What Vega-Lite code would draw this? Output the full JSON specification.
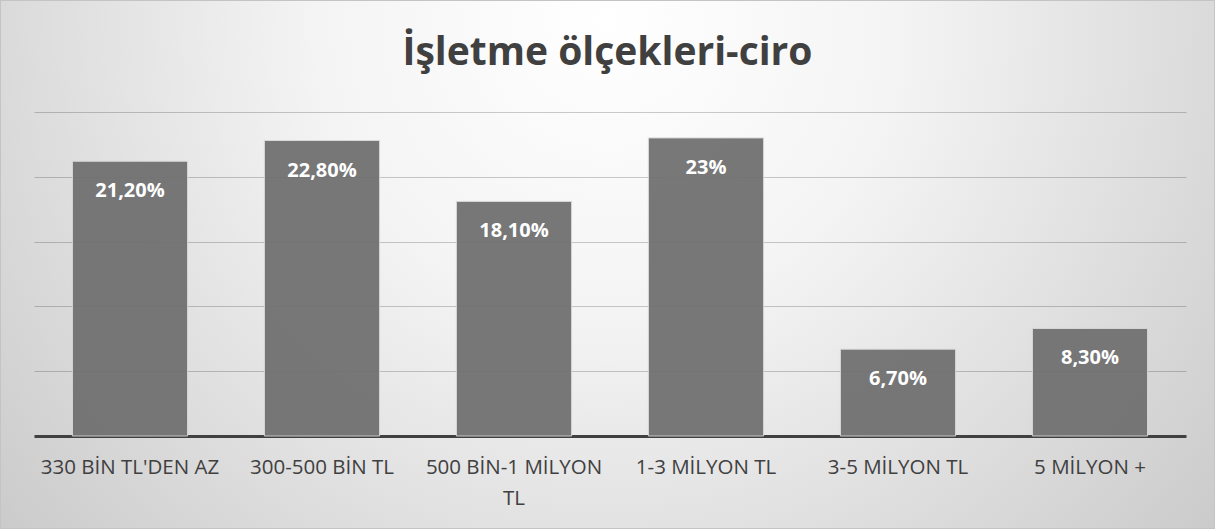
{
  "$schema": "https://vega.github.io/schema/vega-lite/v6.json",
  "width": 1215,
  "height": 529,
  "autosize": "none",
  "padding": 0,
  "background": "white",
  "title": {
    "text": "İşletme ölçekleri-ciro",
    "font": "Open Sans",
    "fontSize": 39,
    "fontWeight": "bold",
    "color": "#404040",
    "anchor": "middle",
    "baseline": "alphabetic",
    "offset": -104
  },
  "view": {
    "fill": {
      "gradient": "radial",
      "x1": 0.5, "y1": 0.3, "r1": 0,
      "x2": 0.5, "y2": 0.3, "r2": 0.8,
      "stops": [
        {"offset": 0, "color": "#ffffff"},
        {"offset": 0.3, "color": "#f4f4f4"},
        {"offset": 1, "color": "#bcbcbc"}
      ]
    },
    "stroke": "#c4c4c4",
    "strokeWidth": 2
  },
  "data": {
    "values": [
      {"category": "330 BİN TL'DEN AZ", "value": 21.2, "label": "21,20%"},
      {"category": "300-500 BİN TL", "value": 22.8, "label": "22,80%"},
      {"category": "500 BİN-1 MİLYON TL", "value": 18.1, "label": "18,10%"},
      {"category": "1-3 MİLYON TL", "value": 23, "label": "23%"},
      {"category": "3-5 MİLYON TL", "value": 6.7, "label": "6,70%"},
      {"category": "5 MİLYON +", "value": 8.3, "label": "8,30%"}
    ]
  },
  "encoding": {
    "x": {
      "field": "category",
      "type": "nominal",
      "sort": null,
      "scale": {"range": [34, 1186], "paddingInner": 0.4, "paddingOuter": 0.2},
      "axis": {
        "title": null,
        "orient": "bottom",
        "offset": -93,
        "domainColor": "#404040",
        "domainWidth": 3,
        "ticks": false,
        "labelAngle": 0,
        "labelFont": "Open Sans",
        "labelFontSize": 20.5,
        "labelColor": "#404040",
        "labelPadding": 21,
        "labelLimit": 0,
        "labelLineHeight": 31,
        "labelExpr": "datum.label == '500 BİN-1 MİLYON TL' ? ['500 BİN-1 MİLYON', 'TL'] : datum.label"
      }
    },
    "y": {
      "field": "value",
      "type": "quantitative",
      "scale": {"domain": [0, 25], "range": [436, 112], "nice": false},
      "axis": {
        "title": null,
        "labels": false,
        "ticks": false,
        "domain": false,
        "grid": true,
        "gridColor": "#000000",
        "gridOpacity": 0.2,
        "gridWidth": 1,
        "values": [5, 10, 15, 20, 25]
      }
    }
  },
  "layer": [
    {
      "mark": {"type": "bar", "color": "#707070", "opacity": 0.94, "stroke": "#d8d8d8", "strokeWidth": 1}
    },
    {
      "mark": {"type": "text", "baseline": "middle", "dy": 30, "color": "white", "font": "Open Sans", "fontWeight": "bold", "fontSize": 20},
      "encoding": {"text": {"field": "label"}}
    }
  ]
}
